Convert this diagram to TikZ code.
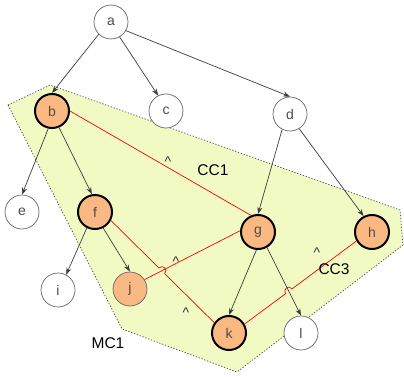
\documentclass[tikz,border=0pt]{standalone}
\usepackage{fontspec}
\setmainfont{Liberation Sans}
\usetikzlibrary{arrows.meta,calc}
\definecolor{nodeorange}{RGB}{250,184,130}
\definecolor{regionfill}{RGB}{242,250,196}
\definecolor{edgegray}{RGB}{60,60,60}
\begin{document}
\begin{tikzpicture}[x=1pt,y=-1pt,
  vtx/.style={circle,draw=black!60,line width=0.7pt,fill=white,minimum size=34pt,
    inner sep=0pt,text=black!70,font=\fontsize{14}{16}\selectfont},
  marked/.style={vtx,fill=nodeorange,draw=black,line width=2pt},
  markedthin/.style={vtx,fill=nodeorange},
  dep/.style={draw=edgegray,line width=0.7pt,-{Stealth[length=7pt,width=5pt]}},
  ccline/.style={draw=red,line width=0.7pt},
  caret/.style={anchor=base,font=\fontsize{14}{16}\selectfont,text=black!80,inner sep=0pt},
  tag/.style={font=\fontsize{15.5}{18}\selectfont,inner sep=0pt},
  region/.style={fill=regionfill,draw=black!70,line width=0.7pt,dash pattern=on 1.3pt off 1.7pt}
]
\useasboundingbox (0,0) rectangle (404,377);

% shaded region MC1
\path[region] (8,105) -- (50,85) -- (400,210) -- (403,245) -- (237,372) -- (122,329) -- cycle;

% vertices
\node[vtx]        (a) at (111,22)  {a};
\node[marked]     (b) at (52,111)  {b};
\node[vtx]        (c) at (166,111) {c};
\node[vtx]        (d) at (290,114) {d};
\node[vtx]        (e) at (22,212)  {e};
\node[marked]     (f) at (95,212)  {f};
\node[marked]     (g) at (258,232) {g};
\node[marked]     (h) at (372,232) {h};
\node[vtx]        (i) at (58,290)  {i};
\node[markedthin] (j) at (130,289) {j};
\node[marked]     (k) at (229,333) {k};
\node[vtx]        (l) at (301,333) {l};

% dependency arrows
\draw[dep] (a.225) -- (b.north);
\draw[dep] (a.300) -- (c.117);
\draw[dep] (a.330) -- (d.north);
\draw[dep] (b.258) -- (e.north);
\draw[dep] (b.293) -- (f.100);
\draw[dep] (d.243) -- (g.north);
\draw[dep] (d.302) -- (h.118);
\draw[dep] (f.243) -- (i.62);
\draw[dep] (f.297) -- (j.north);
\draw[dep] (g.265) -- (k.north);
\draw[dep] (g.300) -- (l.north);

% constraint lines
\draw[ccline] (b.0) -- (g.113);
\draw[ccline] (j.33) -- (g.176);

% f--k with a hop over j--g
\coordinate (fk1) at (f.332);
\coordinate (fk2) at (k.145);
\coordinate (jg1) at (j.33);
\coordinate (jg2) at (g.176);
\coordinate (x1) at (intersection of fk1--fk2 and jg1--jg2);
\draw[ccline] (fk1) -- ($(x1)!4pt!(fk1)$)
  .. controls ($($(x1)!4pt!(fk1)$)!5.5pt!90:(x1)$) and ($($(x1)!4pt!(fk2)$)!5.5pt!-90:(x1)$)
  .. ($(x1)!4pt!(fk2)$) -- (fk2);

% k--h with a hop over g--l
\coordinate (kh1) at (k.30);
\coordinate (kh2) at (h.210);
\coordinate (gl1) at (g.300);
\coordinate (gl2) at (l.north);
\coordinate (x2) at (intersection of kh1--kh2 and gl1--gl2);
\draw[ccline] (kh1) -- ($(x2)!4pt!(kh1)$)
  .. controls ($($(x2)!4pt!(kh1)$)!5.5pt!90:(x2)$) and ($($(x2)!4pt!(kh2)$)!5.5pt!-90:(x2)$)
  .. ($(x2)!4pt!(kh2)$) -- (kh2);

% direction marks
\node[caret] (m1) at (168,166) {\^{}};
\node[caret] (m2) at (176,266) {\^{}};
\node[caret] (m3) at (186,317) {\^{}};
\node[caret] (m4) at (317,257) {\^{}};

% labels
\node[tag] (cc1) at (213,170) {CC1};
\node[tag] (cc3) at (334,269) {CC3};
\node[tag] (mc1) at (108,343) {MC1};
\end{tikzpicture}
\end{document}
